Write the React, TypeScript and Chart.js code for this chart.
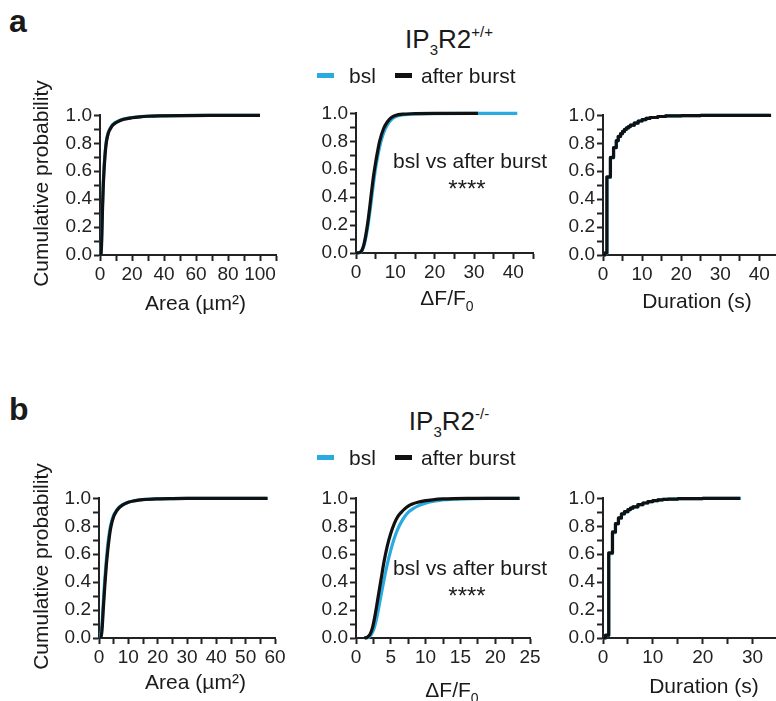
import React, { useEffect, useRef } from 'react';
import { Chart, registerables } from 'chart.js';

Chart.register(...registerables);

const FONT = "'Liberation Sans', Arial, Helvetica, sans-serif";
const BLUE = '#29abe2';
const BLACK = '#111111';
const AXIS = '#222222';

// ---------- Data ----------
// a) IP3R2+/+ : Area (µm²)
const areaWtBslX = [0.5, 1, 1.5, 2, 2.5, 3, 3.5, 4, 5, 6, 7, 8, 10, 12, 15, 20, 25, 30, 40, 50, 70, 100];
const areaWtBslY = [0, 0.12, 0.34, 0.51, 0.62, 0.71, 0.77, 0.82, 0.87, 0.9, 0.92, 0.935, 0.952, 0.963, 0.975, 0.985, 0.991, 0.995, 0.998, 0.999, 1, 1];
const areaWtAbX = [0.6, 1, 1.5, 2, 2.5, 3, 3.5, 4, 5, 6, 7, 8, 10, 12, 15, 20, 25, 30, 40, 50, 70, 100];
const areaWtAbY = [0, 0.08, 0.3, 0.48, 0.6, 0.69, 0.76, 0.81, 0.865, 0.895, 0.915, 0.93, 0.948, 0.96, 0.972, 0.983, 0.99, 0.994, 0.997, 0.999, 1, 1];

// a) IP3R2+/+ : ΔF/F0
const dffWtBslX = [0, 1, 1.5, 2, 2.5, 3, 3.5, 4, 4.5, 5, 5.5, 6, 7, 8, 9, 10, 12, 15, 20, 30, 41];
const dffWtBslY = [0, 0.003, 0.015, 0.05, 0.11, 0.19, 0.29, 0.4, 0.51, 0.61, 0.69, 0.76, 0.86, 0.92, 0.955, 0.975, 0.99, 0.997, 0.999, 1, 1];
const dffWtAbX = [0, 1, 1.5, 2, 2.5, 3, 3.5, 4, 4.5, 5, 5.5, 6, 7, 8, 9, 10, 12, 15, 20, 31];
const dffWtAbY = [0, 0.005, 0.02, 0.06, 0.13, 0.22, 0.33, 0.45, 0.56, 0.65, 0.73, 0.8, 0.89, 0.94, 0.97, 0.985, 0.995, 0.998, 1, 1];

// a) IP3R2+/+ : Duration (s)
const durWtBslX = [0, 0.5, 1.0, 1.9, 2.7, 3.4, 3.9, 4.5, 5, 5.5, 6, 6.5, 7, 8, 9, 10, 11, 12, 14, 16, 20, 25, 42.5];
const durWtBslY = [0, 0.012, 0.555, 0.695, 0.768, 0.818, 0.848, 0.868, 0.884, 0.899, 0.91, 0.92, 0.93, 0.946, 0.96, 0.97, 0.978, 0.985, 0.992, 0.996, 0.999, 1, 1];
const durWtAbX = [0, 0.5, 1.0, 1.9, 2.7, 3.4, 3.9, 4.5, 5, 5.5, 6, 6.5, 7, 8, 9, 10, 11, 12, 14, 16, 20, 25, 43];
const durWtAbY = [0, 0.015, 0.56, 0.7, 0.77, 0.82, 0.85, 0.87, 0.885, 0.9, 0.91, 0.92, 0.93, 0.945, 0.96, 0.97, 0.978, 0.985, 0.992, 0.996, 0.999, 1, 1];

// b) IP3R2-/- : Area (µm²)
const areaKoBslX = [0.5, 1, 1.5, 2, 2.5, 3, 3.5, 4, 5, 6, 7, 8, 10, 12, 15, 20, 25, 30, 57];
const areaKoBslY = [0, 0.09, 0.27, 0.43, 0.56, 0.67, 0.75, 0.81, 0.88, 0.915, 0.94, 0.955, 0.973, 0.983, 0.992, 0.997, 0.999, 1, 1];
const areaKoAbX = [0.6, 1, 1.5, 2, 2.5, 3, 3.5, 4, 5, 6, 7, 8, 10, 12, 15, 20, 25, 30, 57.5];
const areaKoAbY = [0, 0.05, 0.22, 0.38, 0.52, 0.63, 0.72, 0.79, 0.87, 0.91, 0.935, 0.952, 0.972, 0.982, 0.991, 0.997, 0.999, 1, 1];

// b) IP3R2-/- : ΔF/F0
const dffKoBslX = [1.3, 1.8, 2.2, 2.6, 3, 3.5, 4, 4.5, 5, 5.5, 6, 6.5, 7, 7.5, 8, 9, 10, 11, 12, 13, 14, 15, 17, 19, 23.5];
const dffKoBslY = [0, 0.005, 0.025, 0.07, 0.15, 0.28, 0.41, 0.53, 0.63, 0.715, 0.78, 0.83, 0.87, 0.9, 0.92, 0.948, 0.966, 0.978, 0.986, 0.991, 0.995, 0.997, 0.999, 1, 1];
const dffKoAbX = [1.2, 1.6, 2, 2.4, 2.8, 3.2, 3.6, 4, 4.5, 5, 5.5, 6, 6.5, 7, 7.5, 8, 9, 10, 11, 12.5, 14, 16, 23.5];
const dffKoAbY = [0, 0.005, 0.025, 0.08, 0.18, 0.3, 0.42, 0.54, 0.66, 0.75, 0.82, 0.87, 0.9, 0.925, 0.945, 0.958, 0.974, 0.984, 0.99, 0.996, 0.999, 1, 1];

// b) IP3R2-/- : Duration (s)
const durKoBslX = [0, 0.5, 1.15, 1.9, 2.5, 3.1, 3.7, 4.3, 5, 5.5, 6, 7, 8, 9, 10, 11, 12, 13, 15, 17, 20, 27.7];
const durKoBslY = [0, 0.018, 0.605, 0.755, 0.818, 0.858, 0.888, 0.904, 0.92, 0.93, 0.94, 0.955, 0.967, 0.977, 0.984, 0.99, 0.993, 0.995, 0.998, 0.999, 1, 1];
const durKoAbX = [0, 0.5, 1.15, 1.9, 2.5, 3.1, 3.7, 4.3, 5, 5.5, 6, 7, 8, 9, 10, 11, 12, 13, 15, 17, 20, 27.5];
const durKoAbY = [0, 0.02, 0.61, 0.76, 0.82, 0.86, 0.89, 0.905, 0.92, 0.93, 0.94, 0.955, 0.967, 0.977, 0.984, 0.99, 0.993, 0.995, 0.998, 0.999, 1, 1];

// axis settings
const yTickStep = 0.1;
const yLabelStep = 0.2;

type Spec = {
  bslX: number[]; bslY: number[]; abX: number[]; abY: number[];
  xMax: number; xStep: number; labelStep: number; stepped: boolean;
  l: number; t: number; r: number; b: number;
};

const specs: Spec[] = [
  { bslX: areaWtBslX, bslY: areaWtBslY, abX: areaWtAbX, abY: areaWtAbY, xMax: 110, xStep: 10, labelStep: 20, stepped: false, l: 100, t: 114, r: 276, b: 255 },
  { bslX: dffWtBslX, bslY: dffWtBslY, abX: dffWtAbX, abY: dffWtAbY, xMax: 45, xStep: 5, labelStep: 10, stepped: false, l: 356, t: 112, r: 533, b: 253 },
  { bslX: durWtBslX, bslY: durWtBslY, abX: durWtAbX, abY: durWtAbY, xMax: 44, xStep: 5, labelStep: 10, stepped: true, l: 603, t: 114, r: 775, b: 255 },
  { bslX: areaKoBslX, bslY: areaKoBslY, abX: areaKoAbX, abY: areaKoAbY, xMax: 60, xStep: 5, labelStep: 10, stepped: false, l: 99, t: 497, r: 275, b: 638 },
  { bslX: dffKoBslX, bslY: dffKoBslY, abX: dffKoAbX, abY: dffKoAbY, xMax: 25, xStep: 2.5, labelStep: 5, stepped: false, l: 356, t: 497, r: 530, b: 638 },
  { bslX: durKoBslX, bslY: durKoBslY, abX: durKoAbX, abY: durKoAbY, xMax: 34.5, xStep: 5, labelStep: 10, stepped: true, l: 603, t: 497, r: 775, b: 638 },
];

const AY = 60, AX = 40, PT = 12, PR = 25;

function Panel({ spec }: { spec: Spec }) {
  const ref = useRef<HTMLCanvasElement | null>(null);
  const W = spec.r - spec.l + AY + PR;
  const H = spec.b - spec.t + PT + AX;
  useEffect(() => {
    if (!ref.current) return;
    const pts = (xs: number[], ys: number[]) => xs.map((x, i) => ({ x, y: ys[i] }));
    const ds = (label: string, color: string, xs: number[], ys: number[], order: number) => ({
      label,
      data: pts(xs, ys),
      borderColor: color,
      backgroundColor: color,
      borderWidth: 3.2,
      pointRadius: 0,
      fill: false,
      clip: false as any,
      stepped: spec.stepped ? ('before' as const) : false,
      cubicInterpolationMode: 'monotone' as const,
      borderJoinStyle: 'round' as const,
      order,
    });
    const chart = new Chart(ref.current, {
      type: 'line',
      data: {
        datasets: [
          ds('after burst', BLACK, spec.abX, spec.abY, 0),
          ds('bsl', BLUE, spec.bslX, spec.bslY, 1),
        ],
      },
      options: {
        animation: false,
        responsive: false,
        devicePixelRatio: 1,
        events: [],
        layout: { padding: { top: PT, right: PR, left: 0, bottom: 0 } },
        plugins: { legend: { display: false }, tooltip: { enabled: false } },
        scales: {
          x: {
            type: 'linear',
            min: 0,
            max: spec.xMax,
            afterFit: (s: any) => { s.height = AX; },
            grid: { drawOnChartArea: false, drawTicks: true, tickLength: 6, tickWidth: 2, color: AXIS },
            border: { display: true, color: AXIS, width: 2 },
            ticks: {
              stepSize: spec.xStep,
              includeBounds: false,
              autoSkip: false,
              maxRotation: 0,
              padding: 2,
              color: AXIS,
              font: { family: FONT, size: 19 },
              callback: (v: any) => {
                const n = Number(v);
                const k = n / spec.labelStep;
                return Math.abs(k - Math.round(k)) < 1e-6 ? String(Math.round(n)) : '';
              },
            },
          },
          y: {
            type: 'linear',
            min: 0,
            max: 1,
            afterFit: (s: any) => { s.width = AY; },
            grid: { drawOnChartArea: false, drawTicks: true, tickLength: 6, tickWidth: 2, color: AXIS },
            border: { display: true, color: AXIS, width: 2 },
            ticks: {
              stepSize: yTickStep,
              autoSkip: false,
              padding: 2,
              color: AXIS,
              font: { family: FONT, size: 19 },
              callback: (v: any) => {
                const n = Number(v);
                const k = n / yLabelStep;
                return Math.abs(k - Math.round(k)) < 1e-6 ? n.toFixed(1) : '';
              },
            },
          },
        },
      },
    } as any);
    return () => chart.destroy();
  }, []);
  return (
    <canvas
      ref={ref}
      width={W}
      height={H}
      style={{ position: 'absolute', left: spec.l - AY, top: spec.t - PT, width: W, height: H }}
    />
  );
}

function Txt({ x, base, size, align = 'left', bold = false, children }: any) {
  const top = base - 0.8465 * size;
  const style: any = {
    position: 'absolute',
    top,
    fontSize: size,
    lineHeight: size + 'px',
    fontWeight: bold ? 'bold' : 'normal',
    whiteSpace: 'nowrap',
  };
  if (align === 'center') { style.left = x - 200; style.width = 400; style.textAlign = 'center'; }
  else { style.left = x; }
  return <div style={style}>{children}</div>;
}

const sub = (t: string, s = 15, dy = 7) => <span style={{ fontSize: s, position: 'relative', top: dy }}>{t}</span>;
const sup = (t: string, s = 15, dy = -11) => <span style={{ fontSize: s, position: 'relative', top: dy }}>{t}</span>;

function Legend({ dy }: { dy: number }) {
  return (
    <>
      <div style={{ position: 'absolute', left: 317, top: 73 + dy, width: 17, height: 5, background: BLUE }} />
      <Txt x={349} base={83 + dy} size={21}>bsl</Txt>
      <div style={{ position: 'absolute', left: 395, top: 73 + dy, width: 17, height: 5, background: BLACK }} />
      <Txt x={421} base={83 + dy} size={21}>after burst</Txt>
    </>
  );
}

function YTitle({ cy }: { cy: number }) {
  return (
    <div style={{
      position: 'absolute', left: 39.5 - 150, top: cy - 10.5, width: 300, height: 21,
      lineHeight: '21px', fontSize: 21, textAlign: 'center', transform: 'rotate(-90deg)', whiteSpace: 'nowrap',
    }}>Cumulative probability</div>
  );
}

export default function App() {
  return (
    <div style={{ position: 'fixed', left: 0, top: 0, width: 776, height: 701, overflow: 'hidden', background: '#fff', fontFamily: FONT, color: '#1a1a1a' }}>
      {specs.map((s, i) => <Panel key={i} spec={s} />)}

      <Txt x={9} base={32} size={32} bold>a</Txt>
      <Txt x={9} base={420} size={32} bold>b</Txt>

      <Txt x={449} base={48} size={26} align="center">IP{sub('3')}R2{sup('+/+')}</Txt>
      <Txt x={449} base={430} size={26} align="center">IP{sub('3')}R2{sup('-/-')}</Txt>

      <Legend dy={0} />
      <Legend dy={382} />

      <YTitle cy={183} />
      <YTitle cy={566} />

      <Txt x={195.5} base={310} size={21} align="center">Area (µm²)</Txt>
      <Txt x={447} base={305} size={21} align="center">ΔF/F{sub('0', 14, 6)}</Txt>
      <Txt x={697} base={308} size={21} align="center">Duration (s)</Txt>
      <Txt x={195.5} base={689} size={21} align="center">Area (µm²)</Txt>
      <Txt x={452} base={697} size={21} align="center">ΔF/F{sub('0', 14, 6)}</Txt>
      <Txt x={704} base={693} size={21} align="center">Duration (s)</Txt>

      <Txt x={470} base={168} size={21} align="center">bsl vs after burst</Txt>
      <Txt x={467} base={197} size={24} align="center">****</Txt>
      <Txt x={470} base={575} size={21} align="center">bsl vs after burst</Txt>
      <Txt x={467} base={604} size={24} align="center">****</Txt>
    </div>
  );
}
